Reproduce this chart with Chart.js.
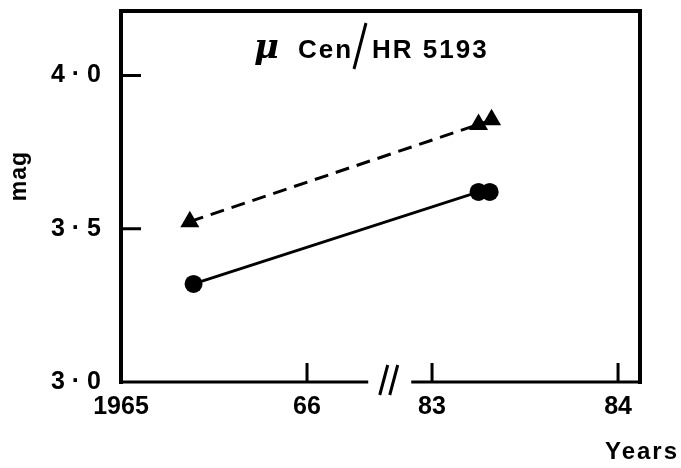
<!DOCTYPE html>
<html>
<head>
<meta charset="utf-8">
<script src="https://cdn.jsdelivr.net/npm/chart.js@4.4.1/dist/chart.umd.min.js"></script>
<style>
  html, body { margin: 0; padding: 0; background: #ffffff; }
</style>
</head>
<body>
<canvas id="magChart" width="681" height="468"></canvas>
<script>
const triangleYears = [1965.37, 1983.25, 1983.32];
const triangleMags = [3.523, 3.84, 3.855];
const circleYears = [1965.39, 1983.25, 1983.31];
const circleMags = [3.32, 3.62, 3.62];
const xTickYears = [1965, 1966, 1983, 1984];
const xTickLabels = ["1965", "66", "83", "84"];
const yTicks = [3.0, 3.5, 4.0];

// broken time axis: 1965-66 on the left, 1983-84 on the right
const rightOffset = 1.672;
const breakAt = 1.45;

function axisPos(year) {
  return year < 1975 ? year - 1965 : year - 1983 + rightOffset;
}

const tickFont = { family: "Liberation Sans", weight: "bold", size: 25 };

const framePlugin = {
  id: "frame",
  afterDraw(chart) {
    const { ctx, chartArea: a, scales } = chart;
    const bx = scales.x.getPixelForValue(breakAt);

    ctx.save();
    ctx.strokeStyle = "#000";
    ctx.lineCap = "square";

    ctx.lineWidth = 4;
    ctx.beginPath();
    ctx.moveTo(a.left, a.bottom);
    ctx.lineTo(a.left, a.top);
    ctx.lineTo(a.right, a.top);
    ctx.lineTo(a.right, a.bottom);
    ctx.stroke();

    ctx.lineWidth = 3;
    ctx.beginPath();
    ctx.moveTo(a.left, a.bottom);
    ctx.lineTo(bx - 24, a.bottom);
    ctx.moveTo(bx + 22, a.bottom);
    ctx.lineTo(a.right, a.bottom);
    ctx.stroke();

    // break marks
    ctx.lineCap = "butt";
    ctx.beginPath();
    ctx.moveTo(bx - 11, a.bottom + 13);
    ctx.lineTo(bx - 3, a.bottom - 17);
    ctx.moveTo(bx - 1, a.bottom + 13);
    ctx.lineTo(bx + 7, a.bottom - 17);
    ctx.stroke();

    // inward ticks
    ctx.beginPath();
    yTicks.slice(1).forEach(v => {
      const py = scales.y.getPixelForValue(v);
      ctx.moveTo(a.left, py);
      ctx.lineTo(a.left + 20, py);
    });
    xTickYears.slice(1).forEach(yr => {
      const px = scales.x.getPixelForValue(axisPos(yr));
      ctx.moveTo(px, a.bottom);
      ctx.lineTo(px, a.bottom - 19);
    });
    ctx.stroke();

    // title
    ctx.fillStyle = "#000";
    ctx.textBaseline = "alphabetic";
    ctx.font = "bold italic 34px 'DejaVu Serif'";
    ctx.fillText("\u03bc", 254, 58);
    ctx.font = "bold 26px 'Liberation Sans'";
    ctx.letterSpacing = "2px";
    ctx.fillText("Cen", 298, 58);
    ctx.fillText("HR 5193", 372, 58);
    ctx.letterSpacing = "0px";
    ctx.lineWidth = 3;
    ctx.beginPath();
    ctx.moveTo(354, 69);
    ctx.lineTo(366, 23);
    ctx.stroke();

    // axis titles
    ctx.font = "bold 24px 'Liberation Sans'";
    ctx.letterSpacing = "2px";
    ctx.textAlign = "center";
    ctx.textBaseline = "middle";
    ctx.fillText("Years", 642, 452);
    ctx.letterSpacing = "1px";
    ctx.font = "bold 23px 'Liberation Sans'";
    ctx.translate(20, 176);
    ctx.rotate(-Math.PI / 2);
    ctx.fillText("mag", 0, 0);
    ctx.restore();
  }
};

const ctx = document.getElementById("magChart").getContext("2d");
const magChart = new Chart(ctx, {
  type: "line",
  plugins: [framePlugin],
  data: {
    datasets: [
      {
        label: "triangles",
        data: triangleYears.map((yr, i) => ({ x: axisPos(yr), y: triangleMags[i] })),
        borderColor: "#000",
        backgroundColor: "#000",
        borderWidth: 3,
        borderDash: [14, 8],
        pointStyle: "triangle",
        pointRadius: 11,
        pointBackgroundColor: "#000",
        pointBorderWidth: 0,
        tension: 0
      },
      {
        label: "circles",
        data: circleYears.map((yr, i) => ({ x: axisPos(yr), y: circleMags[i] })),
        borderColor: "#000",
        backgroundColor: "#000",
        borderWidth: 3,
        pointStyle: "circle",
        pointRadius: 9,
        pointBackgroundColor: "#000",
        pointBorderWidth: 0,
        tension: 0
      }
    ]
  },
  options: {
    responsive: false,
    animation: false,
    devicePixelRatio: 1,
    layout: {
      padding: { top: 10, right: 41, left: 0, bottom: 0 }
    },
    plugins: {
      legend: { display: false },
      tooltip: { enabled: false }
    },
    scales: {
      x: {
        type: "linear",
        min: 0,
        max: 2.79,
        afterBuildTicks: scale => {
          scale.ticks = xTickYears.map(yr => ({ value: axisPos(yr) }));
        },
        afterFit: scale => {
          scale.height = 86;
          scale.paddingLeft = 0;
          scale.paddingRight = 0;
        },
        ticks: {
          callback: (value, index) => xTickLabels[index],
          font: tickFont,
          color: "#000",
          padding: 10,
          autoSkip: false,
          maxRotation: 0,
          minRotation: 0
        },
        grid: { display: false, drawTicks: false },
        border: { display: false }
      },
      y: {
        min: 3.0,
        max: 4.21,
        afterBuildTicks: scale => {
          scale.ticks = yTicks.map(v => ({ value: v }));
        },
        afterFit: scale => {
          scale.width = 121;
          scale.paddingTop = 0;
          scale.paddingBottom = 0;
        },
        ticks: {
          callback: value => value.toFixed(1).replace(".", " \u00b7 "),
          font: tickFont,
          color: "#000",
          padding: 20
        },
        grid: { display: false, drawTicks: false },
        border: { display: false }
      }
    }
  }
});
</script>
</body>
</html>
